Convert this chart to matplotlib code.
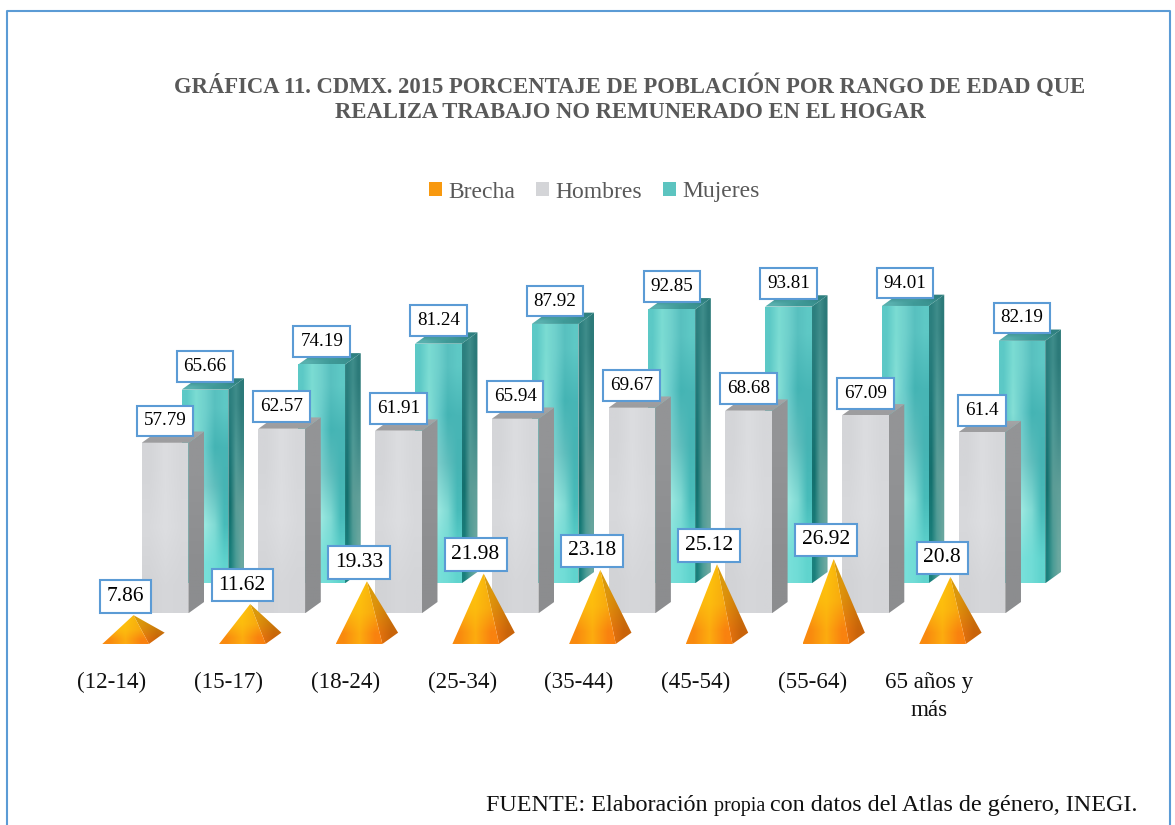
import numpy as np
import matplotlib
matplotlib.use('Agg')
import matplotlib.pyplot as plt
from matplotlib.colors import to_rgb
from matplotlib.lines import Line2D
from matplotlib.patches import Patch, Polygon

plt.rcParams['font.family'] = ['Liberation Serif', 'DejaVu Serif']

categorias = ['(12-14)', '(15-17)', '(18-24)', '(25-34)', '(35-44)', '(45-54)', '(55-64)', '65 años y\nmás']
brecha = [7.86, 11.62, 19.33, 21.98, 23.18, 25.12, 26.92, 20.8]
hombres = [57.79, 62.57, 61.91, 65.94, 69.67, 68.68, 67.09, 61.4]
mujeres = [65.66, 74.19, 81.24, 87.92, 92.85, 93.81, 94.01, 82.19]

# colour grids for the faces, top row first
teal_front = [['#5cc9c6', '#7bdcd3', '#6fd0cc', '#58c0bf', '#5ec8c5'],
              ['#5cc8c6', '#85dfd6', '#66cac9', '#44b4b4', '#48b6b6'],
              ['#5fcfcb', '#64c6c5', '#7accca', '#5fbebd', '#46b4b4'],
              ['#62d2cc', '#8ce4dc', '#9ae8e0', '#80dad4', '#48bcba'],
              ['#68d8d2', '#78dfd8', '#78e0da', '#70dcd6', '#60d4ce']]
teal_side = [['#2c7f7e', '#3f8d8b', '#2c7a79'],
             ['#1f7878', '#4f9a96', '#3f8a88'],
             ['#14706e', '#5a9c96', '#5f9e98'],
             ['#1a807c', '#4a9c96', '#6aa8a0']]
teal_top = [['#3a8c8b', '#4a9f9d', '#2f8080'],
            ['#58b0ae', '#3f9a98', '#3a9290']]
grey_front = [['#d4d5d8', '#dcdde0', '#d6d7da'],
              ['#d8d9dc', '#dddee1', '#d8d9dc'],
              ['#d2d3d6', '#d6d7da', '#d4d5d8']]
grey_side = [['#939496'], ['#8c8d8f']]
grey_top = [['#a3a3a5'], ['#9d9d9f']]
pyr_front = [['#fdbd0d', '#fec20c', '#f5ad0e'],
             ['#fcb510', '#fdbc0e', '#f8a80f'],
             ['#f98a0e', '#fdac0f', '#f9820f']]
pyr_side = [['#d99a0c', '#cf8a0c'],
            ['#e08f0c', '#c8760a'],
            ['#f07a10', '#c9640a']]

bar_w = 0.4
dx = 0.1345
dy = 3.83
h_left = 0.0746
m_left = 0.417
m_base = 10.17
p_left = -0.263
p_base = -10.4
label_color = '#5b9bd5'


def shade(ax, pts, colors, z):
    pts = np.array(pts)
    img = np.array([[to_rgb(c) for c in row] for row in colors])
    im = ax.imshow(img, extent=(pts[:, 0].min(), pts[:, 0].max(), pts[:, 1].min(), pts[:, 1].max()),
                   origin='upper', aspect='auto', interpolation='bilinear', zorder=z)
    poly = Polygon(pts, closed=True, transform=ax.transData, facecolor='none', edgecolor='none')
    ax.add_patch(poly)
    im.set_clip_path(poly)


def bar3d(ax, left, base, val, front, side, top, z):
    r = left + bar_w
    t = base + val
    shade(ax, [(left, base), (r, base), (r, t), (left, t)], front, z)
    shade(ax, [(r, base), (r + dx, base + dy), (r + dx, t + dy), (r, t)], side, z)
    shade(ax, [(left, t), (r, t), (r + dx, t + dy), (left + dx, t + dy)], top, z)


def pyramid(ax, left, val, z):
    r = left + bar_w
    apex = (left + (bar_w + dx) / 2, p_base + dy / 2 + val)
    shade(ax, [(r, p_base), (r + dx, p_base + dy), apex], pyr_side, z)
    shade(ax, [(left, p_base), (r, p_base), apex], pyr_front, z)
    return apex


def etiqueta(ax, xy, txt, off, size):
    ax.annotate(txt, xy=xy, xytext=off, textcoords='offset points', ha='center', va='center',
                fontsize=size, color='black', zorder=20, annotation_clip=False,
                bbox=dict(boxstyle='square,pad=%.2f' % (4.9 / size), facecolor='white',
                          edgecolor=label_color, linewidth=1.5))


fig = plt.figure(figsize=(11.75, 8.25), dpi=100)
ax = fig.add_axes([0, (825 - 664) / 825, 1, 664 / 825])

x = np.arange(len(categorias))
for i in x:
    bar3d(ax, i + m_left, m_base, mujeres[i], teal_front, teal_side, teal_top, 2)
for i in x:
    bar3d(ax, i + h_left, 0, hombres[i], grey_front, grey_side, grey_top, 3)
for i in x:
    apex = pyramid(ax, i + p_left, brecha[i], 4)
    etiqueta(ax, apex, str(brecha[i]), (-5.8, 13.7), 15.5)
for i in x:
    etiqueta(ax, (i + h_left + bar_w / 2, hombres[i]), str(hombres[i]), (0, 15.8), 13.7)
    etiqueta(ax, (i + m_left + bar_w / 2, m_base + mujeres[i]), str(mujeres[i]), (0, 16.5), 13.7)

ax.set_xlim(-133 / 116.7, (1175 - 133) / 116.7)
ax.set_ylim((613.3 - 664) / 2.95, 613.3 / 2.95)
ax.set_xticks(x - 0.18)
ax.set_xticklabels(categorias, fontsize=16.6, color='#111111', linespacing=1.4)
ax.tick_params(axis='x', length=0, pad=6)
ax.set_yticks([])
for s in ax.spines.values():
    s.set_visible(False)

handles = [Patch(facecolor='#f8990f', label='Brecha'),
           Patch(facecolor='#d4d5d8', label='Hombres'),
           Patch(facecolor='#5cc4c0', label='Mujeres')]
fig.legend(handles=handles, ncol=3, loc='center', bbox_to_anchor=(594.5 / 1175, 1 - 192 / 825),
           frameon=False, fontsize=17, labelcolor='#595959', handlelength=0.55, handleheight=0.55,
           handletextpad=0.25, columnspacing=0.9)

fig.text(630 / 1175, 1 - 86 / 825, 'GRÁFICA 11. CDMX. 2015 PORCENTAJE DE POBLACIÓN POR RANGO DE EDAD QUE',
         ha='center', va='center', fontsize=16.3, fontweight='bold', color='#595959')
fig.text(630 / 1175, 1 - 112 / 825, 'REALIZA TRABAJO NO REMUNERADO EN EL HOGAR',
         ha='center', va='center', fontsize=16.3, fontweight='bold', color='#595959')

# footer: "propia" is set smaller in the original
rend = fig.canvas.get_renderer()
pos = 486
for txt, size in [('FUENTE: Elaboración ', 17.4), ('propia ', 14.5), ('con datos del Atlas de género, INEGI.', 17.4)]:
    t = fig.text(pos / 1175, 1 - 811 / 825, txt, ha='left', va='baseline', fontsize=size, color='#111111')
    pos += t.get_window_extent(rend).width

border = Line2D([6.5 / 1175, 6.5 / 1175, 1169.5 / 1175, 1169.5 / 1175],
                [0, 1 - 11 / 825, 1 - 11 / 825, 0], transform=fig.transFigure,
                color=label_color, linewidth=1.5)
fig.add_artist(border)

fig.savefig('out.png', dpi=100)
